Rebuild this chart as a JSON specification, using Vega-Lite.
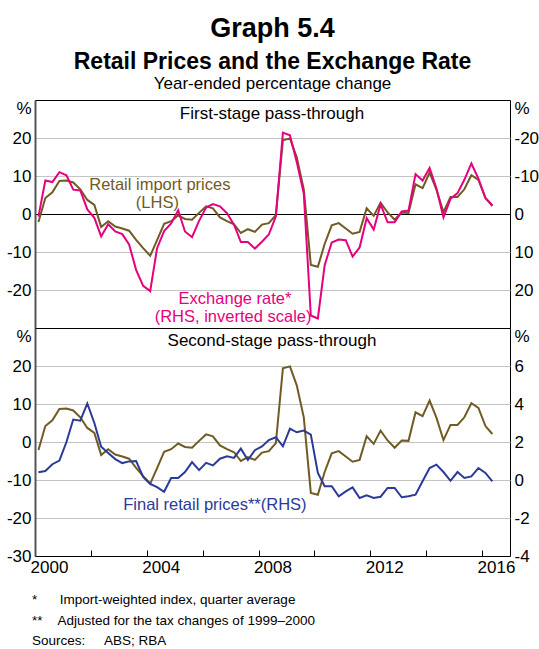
{
  "$schema": "https://vega.github.io/schema/vega-lite/v6.json",
  "padding": {"left": 5, "right": 5, "top": 14, "bottom": 0},
  "title": {
    "text": "Graph 5.4",
    "subtitle": "Retail Prices and the Exchange Rate",
    "anchor": "middle",
    "font": "Liberation Sans",
    "fontSize": 27,
    "fontWeight": "bold",
    "color": "#000000",
    "subtitleFont": "Liberation Sans",
    "subtitleFontSize": 23,
    "subtitleFontWeight": "bold",
    "subtitleColor": "#000000",
    "subtitlePadding": 8,
    "offset": 0
  },
  "datasets": {
    "series": [
      {"date": "2000-02-15", "retail_import": -2.1, "exchange_rate": 0.7, "final_retail": 0.41},
      {"date": "2000-05-15", "retail_import": 4.2, "exchange_rate": -8.8, "final_retail": 0.47},
      {"date": "2000-08-15", "retail_import": 5.7, "exchange_rate": -8.4, "final_retail": 0.83},
      {"date": "2000-11-15", "retail_import": 8.7, "exchange_rate": -11.0, "final_retail": 1.02},
      {"date": "2001-02-15", "retail_import": 8.8, "exchange_rate": -10.2, "final_retail": 2.0},
      {"date": "2001-05-15", "retail_import": 8.3, "exchange_rate": -6.4, "final_retail": 3.18},
      {"date": "2001-08-15", "retail_import": 6.5, "exchange_rate": -6.2, "final_retail": 3.12},
      {"date": "2001-11-15", "retail_import": 3.7, "exchange_rate": -1.2, "final_retail": 4.03},
      {"date": "2002-02-15", "retail_import": 2.4, "exchange_rate": 1.0, "final_retail": 3.0},
      {"date": "2002-05-15", "retail_import": -3.4, "exchange_rate": 5.9, "final_retail": 1.75},
      {"date": "2002-08-15", "retail_import": -1.9, "exchange_rate": 2.7, "final_retail": 1.42},
      {"date": "2002-11-15", "retail_import": -3.3, "exchange_rate": 4.6, "final_retail": 1.1},
      {"date": "2003-02-15", "retail_import": -3.8, "exchange_rate": 5.3, "final_retail": 0.89},
      {"date": "2003-05-15", "retail_import": -4.4, "exchange_rate": 8.0, "final_retail": 0.98},
      {"date": "2003-08-15", "retail_import": -6.8, "exchange_rate": 14.7, "final_retail": 1.0},
      {"date": "2003-11-15", "retail_import": -9.0, "exchange_rate": 18.9, "final_retail": 0.16},
      {"date": "2004-02-15", "retail_import": -11.0, "exchange_rate": 20.3, "final_retail": -0.2},
      {"date": "2004-05-15", "retail_import": -6.9, "exchange_rate": 9.0, "final_retail": -0.38},
      {"date": "2004-08-15", "retail_import": -2.6, "exchange_rate": 4.5, "final_retail": -0.62},
      {"date": "2004-11-15", "retail_import": -1.9, "exchange_rate": 2.5, "final_retail": 0.1},
      {"date": "2005-02-15", "retail_import": -0.4, "exchange_rate": -1.0, "final_retail": 0.1},
      {"date": "2005-05-15", "retail_import": -1.3, "exchange_rate": 4.6, "final_retail": 0.42},
      {"date": "2005-08-15", "retail_import": -1.5, "exchange_rate": 6.1, "final_retail": 0.94},
      {"date": "2005-11-15", "retail_import": 0.3, "exchange_rate": 1.8, "final_retail": 0.52},
      {"date": "2006-02-15", "retail_import": 2.0, "exchange_rate": -1.7, "final_retail": 0.9},
      {"date": "2006-05-15", "retail_import": 1.5, "exchange_rate": -2.6, "final_retail": 0.77},
      {"date": "2006-08-15", "retail_import": -0.9, "exchange_rate": -2.0, "final_retail": 1.12},
      {"date": "2006-11-15", "retail_import": -1.9, "exchange_rate": -0.2, "final_retail": 1.25},
      {"date": "2007-02-15", "retail_import": -2.7, "exchange_rate": 2.8, "final_retail": 1.16},
      {"date": "2007-05-15", "retail_import": -5.0, "exchange_rate": 7.4, "final_retail": 1.65},
      {"date": "2007-08-15", "retail_import": -4.0, "exchange_rate": 7.4, "final_retail": 1.05},
      {"date": "2007-11-15", "retail_import": -4.7, "exchange_rate": 9.1, "final_retail": 1.57},
      {"date": "2008-02-15", "retail_import": -2.8, "exchange_rate": 7.3, "final_retail": 1.77},
      {"date": "2008-05-15", "retail_import": -2.4, "exchange_rate": 5.4, "final_retail": 2.1},
      {"date": "2008-08-15", "retail_import": -0.3, "exchange_rate": 0.6, "final_retail": 2.25},
      {"date": "2008-11-15", "retail_import": 19.4, "exchange_rate": -21.4, "final_retail": 1.77},
      {"date": "2009-02-15", "retail_import": 19.9, "exchange_rate": -20.7, "final_retail": 2.7},
      {"date": "2009-05-15", "retail_import": 14.9, "exchange_rate": -13.7, "final_retail": 2.51},
      {"date": "2009-08-15", "retail_import": 6.5, "exchange_rate": -5.4, "final_retail": 2.6},
      {"date": "2009-11-15", "retail_import": -13.4, "exchange_rate": 26.7, "final_retail": 2.39},
      {"date": "2010-02-15", "retail_import": -13.9, "exchange_rate": 27.5, "final_retail": 0.37},
      {"date": "2010-05-15", "retail_import": -7.9, "exchange_rate": 13.5, "final_retail": -0.33},
      {"date": "2010-08-15", "retail_import": -3.0, "exchange_rate": 7.5, "final_retail": -0.33},
      {"date": "2010-11-15", "retail_import": -2.4, "exchange_rate": 6.7, "final_retail": -0.86},
      {"date": "2011-02-15", "retail_import": -3.8, "exchange_rate": 6.9, "final_retail": -0.6},
      {"date": "2011-05-15", "retail_import": -5.2, "exchange_rate": 11.2, "final_retail": -0.39},
      {"date": "2011-08-15", "retail_import": -4.7, "exchange_rate": 8.8, "final_retail": -0.95},
      {"date": "2011-11-15", "retail_import": 1.5, "exchange_rate": 1.1, "final_retail": -0.81},
      {"date": "2012-02-15", "retail_import": -0.5, "exchange_rate": 4.1, "final_retail": -0.95},
      {"date": "2012-05-15", "retail_import": 3.0, "exchange_rate": -2.5, "final_retail": -0.88},
      {"date": "2012-08-15", "retail_import": 0.4, "exchange_rate": 2.2, "final_retail": -0.42},
      {"date": "2012-11-15", "retail_import": -1.5, "exchange_rate": 2.2, "final_retail": -0.42},
      {"date": "2013-02-15", "retail_import": 0.4, "exchange_rate": -0.7, "final_retail": -0.91},
      {"date": "2013-05-15", "retail_import": 0.3, "exchange_rate": -0.9, "final_retail": -0.86},
      {"date": "2013-08-15", "retail_import": 7.8, "exchange_rate": -10.5, "final_retail": -0.77},
      {"date": "2013-11-15", "retail_import": 6.8, "exchange_rate": -8.8, "final_retail": -0.07},
      {"date": "2014-02-15", "retail_import": 10.9, "exchange_rate": -12.1, "final_retail": 0.63},
      {"date": "2014-05-15", "retail_import": 6.4, "exchange_rate": -6.8, "final_retail": 0.81},
      {"date": "2014-08-15", "retail_import": 0.5, "exchange_rate": 0.9, "final_retail": 0.42},
      {"date": "2014-11-15", "retail_import": 4.5, "exchange_rate": -4.0, "final_retail": -0.04},
      {"date": "2015-02-15", "retail_import": 4.5, "exchange_rate": -5.5, "final_retail": 0.42},
      {"date": "2015-05-15", "retail_import": 6.5, "exchange_rate": -9.0, "final_retail": 0.11},
      {"date": "2015-08-15", "retail_import": 10.2, "exchange_rate": -13.3, "final_retail": 0.19},
      {"date": "2015-11-15", "retail_import": 9.0, "exchange_rate": -9.3, "final_retail": 0.63},
      {"date": "2016-02-15", "retail_import": 4.2, "exchange_rate": -4.2, "final_retail": 0.37},
      {"date": "2016-05-15", "retail_import": 2.1, "exchange_rate": -2.3, "final_retail": -0.07}
    ]
  },
  "vconcat": [
    {
      "width": 475,
      "height": 228,
      "data": {"name": "series"},
      "title": {
        "text": "Year-ended percentage change",
        "anchor": "middle", "frame": "group",
        "font": "Liberation Sans", "fontSize": 17, "fontWeight": "normal", "color": "#000000",
        "offset": 6
      },
      "layer": [
        {
          "layer": [
            {
              "mark": {"type": "line", "color": "#6f5b23", "strokeWidth": 2},
              "encoding": {
                "x": {"field": "date", "type": "temporal", "scale": {"type": "utc", "domain": [{"year": 2000, "month": 1, "date": 1, "utc": true}, {"year": 2017, "month": 1, "date": 1, "utc": true}]}, "axis": null},
                "y": {
                  "field": "retail_import", "type": "quantitative",
                  "scale": {"domain": [-30, 30], "nice": false, "zero": false},
                  "axis": {
                    "orient": "left", "title": null,
                    "values": [-20, -10, 0, 10, 20, 30],
                    "labelExpr": "datum.value == 30 ? '%' : replace(datum.label, '\u2212', '-')",
                    "labelBaseline": {"condition": {"test": "datum.value == 30", "value": "top"}, "value": "middle"},
                    "labelOverlap": false,
                    "ticks": false, "domain": true, "domainColor": "#555555", "domainWidth": 2,
                    "grid": true,
                    "gridColor": {"condition": {"test": "datum.value == 0", "value": "#000000"}, "value": "#c4c4c4"},
                    "gridOpacity": {"condition": {"test": "abs(datum.value) == 30", "value": 0}, "value": 1},
                    "labelPadding": 4
                  }
                }
              }
            },
            {
              "data": {"values": [{}]},
              "mark": {"type": "text", "color": "#000000", "fontSize": 17, "align": "center", "baseline": "middle", "text": "First-stage pass-through"},
              "encoding": {"x": {"datum": {"year": 2008, "month": 6, "date": 25, "utc": true}, "type": "temporal"}, "y": {"datum": 26.2, "type": "quantitative"}}
            },
            {
              "data": {"values": [{}]},
              "mark": {"type": "text", "color": "#6f5b23", "fontSize": 16.5, "align": "center", "baseline": "middle", "text": "Retail import prices"},
              "encoding": {"x": {"datum": {"year": 2004, "month": 6, "date": 20, "utc": true}, "type": "temporal"}, "y": {"datum": 7.6, "type": "quantitative"}}
            },
            {
              "data": {"values": [{}]},
              "mark": {"type": "text", "color": "#6f5b23", "fontSize": 16.5, "align": "center", "baseline": "middle", "text": "(LHS)"},
              "encoding": {"x": {"datum": {"year": 2004, "month": 5, "date": 19, "utc": true}, "type": "temporal"}, "y": {"datum": 2.8, "type": "quantitative"}}
            },
            {
              "data": {"values": [{}]},
              "mark": {"type": "text", "color": "#e6007e", "fontSize": 16.5, "align": "center", "baseline": "middle", "text": "Exchange rate*"},
              "encoding": {"x": {"datum": {"year": 2007, "month": 2, "date": 28, "utc": true}, "type": "temporal"}, "y": {"datum": -22.3, "type": "quantitative"}}
            },
            {
              "data": {"values": [{}]},
              "mark": {"type": "text", "color": "#e6007e", "fontSize": 16.5, "align": "center", "baseline": "middle", "text": "(RHS, inverted scale)"},
              "encoding": {"x": {"datum": {"year": 2007, "month": 2, "date": 3, "utc": true}, "type": "temporal"}, "y": {"datum": -27.0, "type": "quantitative"}}
            }
          ]
        },
        {
          "mark": {"type": "line", "color": "#e6007e", "strokeWidth": 2},
          "encoding": {
            "x": {"field": "date", "type": "temporal"},
            "y": {
              "field": "exchange_rate", "type": "quantitative",
              "scale": {"domain": [-30, 30], "reverse": true, "nice": false, "zero": false},
              "axis": {
                "orient": "right", "title": null,
                "values": [-30, -20, -10, 0, 10, 20],
                "labelExpr": "datum.value == -30 ? '%' : replace(datum.label, '\u2212', '-')",
                "labelBaseline": {"condition": {"test": "datum.value == -30", "value": "top"}, "value": "middle"},
                "labelOverlap": false,
                "ticks": false, "domain": false, "grid": false, "labelPadding": 4
              }
            }
          }
        }
      ],
      "resolve": {"scale": {"y": "independent"}}
    },
    {
      "width": 475,
      "height": 228,
      "data": {"name": "series"},
      "title": {
        "text": ["*\u00a0\u00a0\u00a0\u00a0\u00a0\u00a0Import-weighted index, quarter average", "**\u00a0\u00a0\u00a0\u00a0Adjusted for the tax changes of 1999\u20132000", "Sources:\u00a0\u00a0\u00a0\u00a0\u00a0ABS; RBA"],
        "orient": "bottom", "anchor": "start", "frame": "group",
        "font": "Liberation Sans", "fontSize": 13.5, "fontWeight": "normal", "color": "#000000",
        "lineHeight": 20.5, "offset": 18, "dx": -3
      },
      "layer": [
        {
          "mark": {"type": "line", "color": "#6f5b23", "strokeWidth": 2},
          "encoding": {
            "x": {
              "field": "date", "type": "temporal",
              "scale": {"type": "utc", "domain": [{"year": 2000, "month": 1, "date": 1, "utc": true}, {"year": 2017, "month": 1, "date": 1, "utc": true}]},
              "axis": {
                "orient": "bottom", "title": null,
                "values": [{"year": 2000, "utc": true}, {"year": 2001, "utc": true}, {"year": 2002, "utc": true}, {"year": 2003, "utc": true}, {"year": 2004, "utc": true}, {"year": 2005, "utc": true}, {"year": 2006, "utc": true}, {"year": 2007, "utc": true}, {"year": 2008, "utc": true}, {"year": 2009, "utc": true}, {"year": 2010, "utc": true}, {"year": 2011, "utc": true}, {"year": 2012, "utc": true}, {"year": 2013, "utc": true}, {"year": 2014, "utc": true}, {"year": 2015, "utc": true}, {"year": 2016, "utc": true}, {"year": 2017, "utc": true}],
                "labelExpr": "(utcyear(datum.value) % 4 == 0 && utcyear(datum.value) < 2017) ? '' + utcyear(datum.value) : ''",
                "labelOffset": 14, "labelOverlap": false, "labelFlush": false,
                "ticks": true, "tickSize": -6, "tickColor": "#000000", "tickWidth": 1,
                "domain": false, "grid": false, "labelPadding": 9
              }
            },
            "y": {
              "field": "retail_import", "type": "quantitative",
              "scale": {"domain": [-30, 30], "nice": false, "zero": false},
              "axis": {
                "orient": "left", "title": null,
                "values": [-30, -20, -10, 0, 10, 20, 30],
                "labelExpr": "datum.value == 30 ? '%' : replace(datum.label, '\u2212', '-')",
                "labelBaseline": {"condition": {"test": "datum.value == 30", "value": "top"}, "value": "middle"},
                "labelOverlap": false,
                "ticks": false, "domain": true, "domainColor": "#555555", "domainWidth": 2,
                "grid": true,
                "gridColor": {"condition": {"test": "datum.value == 100", "value": "#000000"}, "value": "#c4c4c4"},
                "gridOpacity": {"condition": {"test": "abs(datum.value) == 30", "value": 0}, "value": 1},
                "labelPadding": 4
              }
            }
          }
        },
        {
          "data": {"values": [{}]},
          "mark": {"type": "text", "color": "#000000", "fontSize": 17, "align": "center", "baseline": "middle", "text": "Second-stage pass-through"},
          "encoding": {"x": {"datum": {"year": 2008, "month": 6, "date": 25, "utc": true}, "type": "temporal"}, "y": {"datum": 26.5, "type": "quantitative", "scale": {"domain": [-30, 30], "nice": false, "zero": false}, "axis": null}}
        },
        {
          "data": {"values": [{}]},
          "mark": {"type": "text", "color": "#2b3a98", "fontSize": 16.5, "align": "center", "baseline": "middle", "text": "Final retail prices**(RHS)"},
          "encoding": {"x": {"datum": {"year": 2006, "month": 6, "date": 10, "utc": true}, "type": "temporal"}, "y": {"datum": -16.5, "type": "quantitative", "scale": {"domain": [-30, 30], "nice": false, "zero": false}, "axis": null}}
        },
        {
          "mark": {"type": "line", "color": "#2b3a98", "strokeWidth": 2},
          "encoding": {
            "x": {"field": "date", "type": "temporal"},
            "y": {
              "field": "final_retail", "type": "quantitative",
              "scale": {"domain": [-4, 8], "nice": false, "zero": false},
              "axis": {
                "orient": "right", "title": null,
                "values": [-4, -2, 0, 2, 4, 6, 8],
                "labelExpr": "datum.value == 8 ? '%' : replace(datum.label, '\u2212', '-')",
                "labelBaseline": {"condition": {"test": "datum.value == 8", "value": "top"}, "value": "middle"},
                "labelOverlap": false,
                "ticks": false, "domain": false, "grid": false, "labelPadding": 4
              }
            }
          }
        }
      ],
      "resolve": {"scale": {"y": "independent"}}
    }
  ],
  "spacing": 0,
  "bounds": "flush",
  "config": {
    "font": "Liberation Sans",
    "view": {"stroke": "#000000", "strokeWidth": 1},
    "axis": {"labelFont": "Liberation Sans", "labelFontSize": 17, "labelColor": "#000000", "labelOverlap": false},
    "text": {"font": "Liberation Sans"}
  }
}
